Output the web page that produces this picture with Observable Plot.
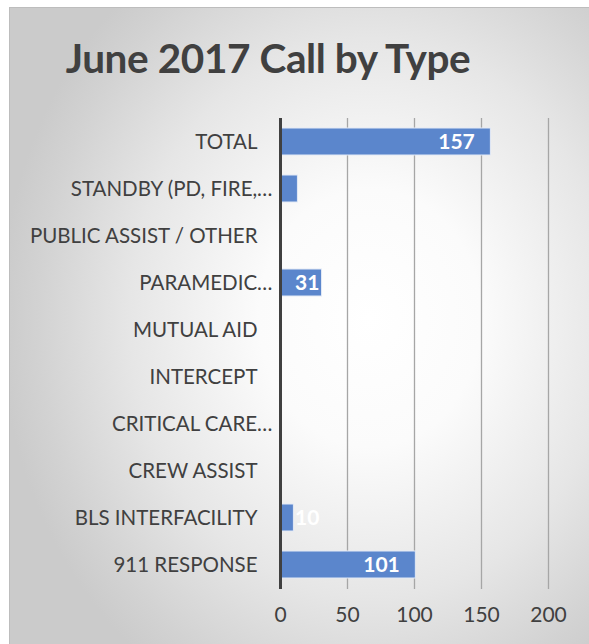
<!DOCTYPE html>
<html><head><meta charset="utf-8">
<script src="https://cdn.jsdelivr.net/npm/d3@7"></script>
<script src="https://cdn.jsdelivr.net/npm/@observablehq/plot@0.6"></script>
<style>
html,body{margin:0;padding:0;background:#fff;overflow:hidden;}
#frame{position:absolute;left:9px;top:7px;width:590px;height:650px;box-sizing:border-box;border:1.5px solid #bdbdbd;
 background:radial-gradient(ellipse 370px 430px at 360px 310px,#ffffff 0%,#fbfbfb 30%,#e6e6e6 65%,#d2d2d2 90%,#cbcbcb 100%);overflow:hidden;}
#title{position:absolute;left:0;top:25px;width:516px;text-align:center;font-family:Lato,"Open Sans",sans-serif;font-weight:700;font-size:40.5px;letter-spacing:-0.4px;color:#404040;white-space:nowrap;}
#chart{position:absolute;left:-9px;top:93px;}
</style></head>
<body>
<div id="frame"><div id="title">June 2017 Call by Type</div><div id="chart"></div></div>
<script>
const categories = ["TOTAL","STANDBY (PD, FIRE,…","PUBLIC ASSIST / OTHER","PARAMEDIC…","MUTUAL AID","INTERCEPT","CRITICAL CARE…","CREW ASSIST","BLS INTERFACILITY","911 RESPONSE"];
const values = [157,13,0,31,0,0,0,0,10,101];
const labelShown = [true,false,false,true,false,false,false,false,true,true];
const xTicks = [0,50,100,150,200];
const data = categories.map((c,i)=>({category:c,value:values[i],shown:labelShown[i]}));
const labeled = data.filter(d=>d.shown);
const ellipsisCats = categories.filter(c=>c.endsWith("…"));
const plainCats = categories.filter(c=>!c.endsWith("…"));

const chart = Plot.plot({
  width:589, height:544,
  marginLeft:279, marginRight:42, marginTop:17, marginBottom:56,
  style:{background:"transparent",fontFamily:"Lato,'Open Sans',sans-serif",color:"#404040",overflow:"visible"},
  x:{domain:[0,200],ticks:xTicks,label:null},
  y:{domain:categories,paddingInner:0.42,paddingOuter:0.21,label:null},
  marks:[
    Plot.ruleX(xTicks.filter(t=>t>0),{stroke:"#a6a6a6",strokeWidth:1.3}),
    Plot.barX(data,{x:"value",y:"category",fill:"#5b86cc",stroke:"#e3eaf6",strokeWidth:1}),
    Plot.ruleX([0],{stroke:"#404040",strokeWidth:3}),
    Plot.text(labeled,{x:d=>Math.max(d.value-12,29),y:"category",text:d=>String(d.value),textAnchor:"end",fill:"#ffffff",fontWeight:700,fontSize:21}),
    Plot.axisY({ticks:plainCats,tickSize:0,tickPadding:23,fontSize:20.5,fill:"#404040"}),
    Plot.axisY({ticks:ellipsisCats,tickSize:0,tickPadding:8,fontSize:20.5,fill:"#404040"}),
    Plot.axisX({ticks:xTicks,tickSize:0,tickPadding:18,fontSize:21,fill:"#404040"})
  ]
});
document.getElementById("chart").appendChild(chart);
</script>
</body></html>
